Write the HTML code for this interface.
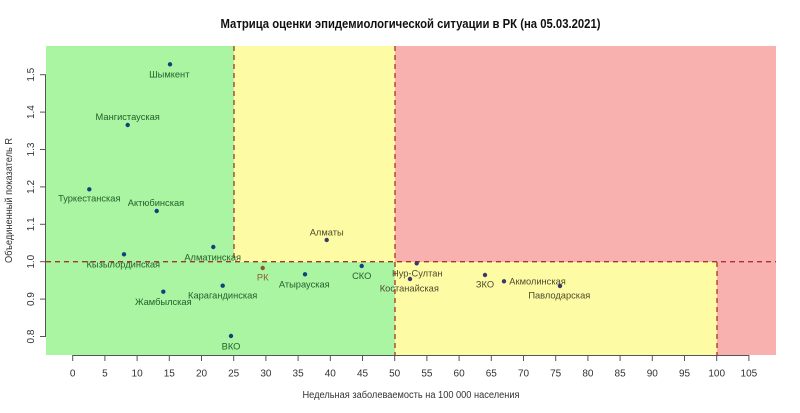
<!DOCTYPE html>
<html><head><meta charset="utf-8"><style>
html,body{margin:0;padding:0;background:#fff;}
svg{display:block;}
text{font-family:"Liberation Sans",Arial,sans-serif;}
</style></head><body>
<svg width="800" height="413" viewBox="0 0 800 413" xmlns="http://www.w3.org/2000/svg">
<rect x="0" y="0" width="800" height="413" fill="#fff"/>
<!-- title -->
<text x="410.5" y="28" font-size="12.5" font-weight="bold" text-anchor="middle" fill="#111" textLength="380" lengthAdjust="spacingAndGlyphs">Матрица оценки эпидемиологической ситуации в РК (на 05.03.2021)</text>

<!-- background regions -->
<rect x="46" y="46" width="730" height="309" fill="#f9b1b0"/>
<rect x="46" y="46" width="188" height="216" fill="#aaf5a2"/>
<rect x="234" y="46" width="161" height="216" fill="#fdfca4"/>
<rect x="46" y="262" width="349" height="93" fill="#aaf5a2"/>
<rect x="395" y="262" width="322" height="93" fill="#fdfca4"/>

<!-- dashed lines -->
<g stroke="#a8352a" stroke-width="1.3" stroke-dasharray="5,4" fill="none">
<line x1="234" y1="46" x2="234" y2="262"/>
<line x1="395" y1="46" x2="395" y2="355"/>
<line x1="717" y1="262" x2="717" y2="355"/>
<line x1="46" y1="261.7" x2="776" y2="261.7"/>
</g>

<!-- x axis -->
<g stroke="#555" stroke-width="1">
<line x1="72.7" y1="355.5" x2="749" y2="355.5"/>
<line x1="72.7" y1="355" x2="72.7" y2="361"/>
<line x1="104.9" y1="355" x2="104.9" y2="361"/>
<line x1="137.1" y1="355" x2="137.1" y2="361"/>
<line x1="169.3" y1="355" x2="169.3" y2="361"/>
<line x1="201.5" y1="355" x2="201.5" y2="361"/>
<line x1="233.7" y1="355" x2="233.7" y2="361"/>
<line x1="265.9" y1="355" x2="265.9" y2="361"/>
<line x1="298.1" y1="355" x2="298.1" y2="361"/>
<line x1="330.3" y1="355" x2="330.3" y2="361"/>
<line x1="362.5" y1="355" x2="362.5" y2="361"/>
<line x1="394.7" y1="355" x2="394.7" y2="361"/>
<line x1="426.9" y1="355" x2="426.9" y2="361"/>
<line x1="459.1" y1="355" x2="459.1" y2="361"/>
<line x1="491.3" y1="355" x2="491.3" y2="361"/>
<line x1="523.5" y1="355" x2="523.5" y2="361"/>
<line x1="555.7" y1="355" x2="555.7" y2="361"/>
<line x1="587.9" y1="355" x2="587.9" y2="361"/>
<line x1="620.1" y1="355" x2="620.1" y2="361"/>
<line x1="652.3" y1="355" x2="652.3" y2="361"/>
<line x1="684.5" y1="355" x2="684.5" y2="361"/>
<line x1="716.7" y1="355" x2="716.7" y2="361"/>
<line x1="748.9" y1="355" x2="748.9" y2="361"/>
</g>
<g font-size="10" fill="#333" text-anchor="middle">
<text x="72.7" y="376.5">0</text>
<text x="104.9" y="376.5">5</text>
<text x="137.1" y="376.5">10</text>
<text x="169.3" y="376.5">15</text>
<text x="201.5" y="376.5">20</text>
<text x="233.7" y="376.5">25</text>
<text x="265.9" y="376.5">30</text>
<text x="298.1" y="376.5">35</text>
<text x="330.3" y="376.5">40</text>
<text x="362.5" y="376.5">45</text>
<text x="394.7" y="376.5">50</text>
<text x="426.9" y="376.5">55</text>
<text x="459.1" y="376.5">60</text>
<text x="491.3" y="376.5">65</text>
<text x="523.5" y="376.5">70</text>
<text x="555.7" y="376.5">75</text>
<text x="587.9" y="376.5">80</text>
<text x="620.1" y="376.5">85</text>
<text x="652.3" y="376.5">90</text>
<text x="684.5" y="376.5">95</text>
<text x="716.7" y="376.5">100</text>
<text x="748.9" y="376.5">105</text>
</g>
<text x="411" y="398" font-size="10" fill="#333" text-anchor="middle" textLength="217" lengthAdjust="spacingAndGlyphs">Недельная заболеваемость на 100 000 населения</text>

<!-- y axis -->
<g stroke="#555" stroke-width="1">
<line x1="45.5" y1="74.7" x2="45.5" y2="336.5"/>
<line x1="40" y1="74.7" x2="46" y2="74.7"/>
<line x1="40" y1="112.1" x2="46" y2="112.1"/>
<line x1="40" y1="149.5" x2="46" y2="149.5"/>
<line x1="40" y1="186.9" x2="46" y2="186.9"/>
<line x1="40" y1="224.3" x2="46" y2="224.3"/>
<line x1="40" y1="261.7" x2="46" y2="261.7"/>
<line x1="40" y1="299.1" x2="46" y2="299.1"/>
<line x1="40" y1="336.5" x2="46" y2="336.5"/>
</g>
<g font-size="10" fill="#333" text-anchor="middle">
<text transform="translate(34,74.7) rotate(-90)">1.5</text>
<text transform="translate(34,112.1) rotate(-90)">1.4</text>
<text transform="translate(34,149.5) rotate(-90)">1.3</text>
<text transform="translate(34,186.9) rotate(-90)">1.2</text>
<text transform="translate(34,224.3) rotate(-90)">1.1</text>
<text transform="translate(34,261.7) rotate(-90)">1.0</text>
<text transform="translate(34,299.1) rotate(-90)">0.9</text>
<text transform="translate(34,336.5) rotate(-90)">0.8</text>
</g>
<text transform="translate(12,200.5) rotate(-90)" font-size="10" fill="#333" text-anchor="middle" textLength="125" lengthAdjust="spacingAndGlyphs">Объединенный показатель R</text>

<!-- points green region -->
<g fill="#17407a">
<circle cx="170" cy="64.3" r="2.2"/>
<circle cx="127.7" cy="125" r="2.2"/>
<circle cx="89.3" cy="189.3" r="2.2"/>
<circle cx="156.7" cy="211" r="2.2"/>
<circle cx="124" cy="254.3" r="2.2"/>
<circle cx="213.3" cy="247" r="2.2"/>
<circle cx="163.3" cy="291.7" r="2.2"/>
<circle cx="222.7" cy="285.7" r="2.2"/>
<circle cx="231" cy="336" r="2.2"/>
<circle cx="305" cy="274.3" r="2.2"/>
<circle cx="361.7" cy="266" r="2.2"/>
</g>
<circle cx="262.7" cy="268" r="2.2" fill="#8a5a2a"/>
<!-- points yellow/pink region -->
<g fill="#3a3a6a">
<circle cx="326.7" cy="240" r="2.2"/>
<circle cx="416.7" cy="263.3" r="2.2"/>
<circle cx="410" cy="279" r="2.2"/>
<circle cx="485" cy="275" r="2.2"/>
<circle cx="504" cy="281.3" r="2.2"/>
<circle cx="560" cy="286" r="2.2"/>
</g>

<!-- labels green -->
<g font-size="9.3" fill="#24602c" text-anchor="middle">
<text x="169.3" y="77.6">Шымкент</text>
<text x="127.7" y="120">Мангистауская</text>
<text x="89.3" y="201.6">Туркестанская</text>
<text x="156" y="206">Актюбинская</text>
<text x="123.3" y="267.3">Кызылординская</text>
<text x="212.7" y="260.3">Алматинская</text>
<text x="163.3" y="305">Жамбылская</text>
<text x="222.7" y="298.3">Карагандинская</text>
<text x="231" y="349.3">ВКО</text>
<text x="304.3" y="287.3">Атырауская</text>
<text x="361.7" y="279">СКО</text>
</g>
<text x="262.7" y="280.6" font-size="9.3" fill="#8a6030" text-anchor="middle">РК</text>
<!-- labels yellow -->
<g font-size="9.3" fill="#4f4a2e" text-anchor="middle">
<text x="326.7" y="235.6">Алматы</text>
<text x="417.3" y="276.6">Нур-Султан</text>
<text x="409.3" y="291.6">Костанайская</text>
<text x="485" y="287.6">ЗКО</text>
<text x="559.3" y="298.3">Павлодарская</text>
</g>
<text x="509.3" y="284.3" font-size="9.3" fill="#4f4a2e">Акмолинская</text>
</svg>
</body></html>
